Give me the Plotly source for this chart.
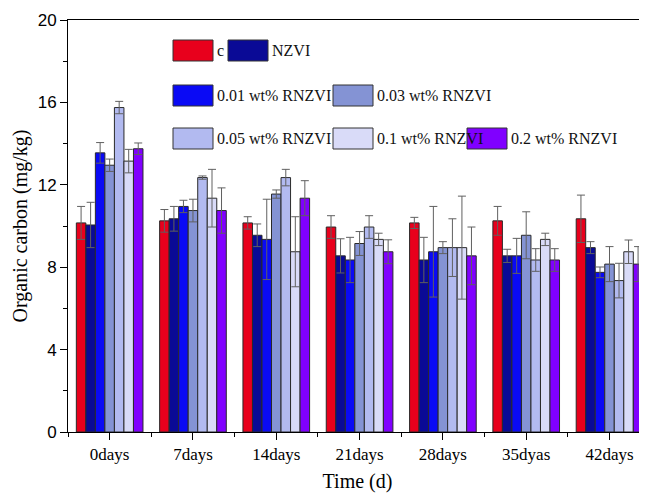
import plotly.graph_objects as go

categories = ["0days", "7days", "14days", "21days", "28days", "35dyas", "42days"]
series_names = ["c", "NZVI", "0.01 wt% RNZVI", "0.03 wt% RNZVI",
                "0.05 wt% RNZVI", "0.1 wt% RNZVI", "0.2 wt% RNZVI"]

c_vals      = [10.15, 10.25, 10.15, 9.95, 10.15, 10.25, 10.35]
nzvi_vals   = [10.05, 10.35, 9.55, 8.55, 8.35, 8.55, 8.95]
r001_vals   = [13.55, 10.95, 9.35, 8.35, 8.75, 8.55, 7.75]
r003_vals   = [12.95, 10.75, 11.55, 9.15, 8.95, 9.55, 8.15]
r005_vals   = [15.75, 12.35, 12.35, 9.95, 8.95, 8.35, 7.35]
r01_vals    = [13.15, 11.35, 8.75, 9.35, 8.95, 9.35, 8.75]
r02_vals    = [13.75, 10.75, 11.35, 8.75, 8.55, 8.35, 8.15]

c_err    = [0.8, 0.55, 0.3, 0.55, 0.27, 0.7, 1.15]
nzvi_err = [1.1, 0.6, 0.55, 0.83, 1.1, 0.32, 0.29]
r001_err = [0.5, 0.3, 1.95, 1.1, 2.2, 0.85, 0.26]
r003_err = [0.3, 0.55, 0.2, 0.58, 0.29, 1.14, 0.85]
r005_err = [0.3, 0.08, 0.4, 0.55, 1.4, 0.55, 0.84]
r01_err  = [0.57, 1.4, 1.7, 0.3, 2.5, 0.3, 0.57]
r02_err  = [0.28, 1.1, 0.85, 0.58, 1.4, 0.55, 0.85]

y_ticks = [0, 4, 8, 12, 16, 20]

values = [c_vals, nzvi_vals, r001_vals, r003_vals, r005_vals, r01_vals, r02_vals]
errors = [c_err, nzvi_err, r001_err, r003_err, r005_err, r01_err, r02_err]
colors = ["#e8001c", "#0a0a96", "#0a0af5", "#8493d4", "#b2baf0", "#d9dbf8", "#8000ff"]

OFF = 8  # page body margin
W, H = 647 - OFF, 496 - OFF
L, R, T, B = 68 - OFF, 0, 20 - OFF, 64
x_pos = list(range(len(categories)))

fig = go.Figure()
for name, v, e, col in zip(series_names, values, errors, colors):
    fig.add_trace(go.Bar(
        x=x_pos, y=v, name=name,
        marker=dict(color=col, line=dict(color="#2a2a2a", width=1)),
        error_y=dict(type="data", array=e, visible=True, color="#606060",
                     thickness=1, width=4),
        showlegend=False,
    ))

# custom legend layout (reference pixel -> paper)
pw, ph = W - L - R, H - T - B
def px(x):
    return (x - OFF - L) / pw
def py(y):
    return (H - B - (y - OFF)) / ph

legend_items = [
    (173, 40, "c"), (228, 40, "NZVI"),
    (173, 85, "0.01 wt% RNZVI"), (333, 85, "0.03 wt% RNZVI"),
    (173, 128, "0.05 wt% RNZVI"), (333, 128, "0.1 wt% RNZVI"), (467, 128, "0.2 wt% RNZVI"),
]
shapes = []
annotations = []
for (bx, by, txt), col in zip(legend_items, colors):
    shapes.append(dict(type="rect", xref="paper", yref="paper",
                       x0=px(bx), x1=px(bx + 40), y0=py(by + 21), y1=py(by),
                       fillcolor=col, line=dict(color="#333333", width=1)))
    annotations.append(dict(xref="paper", yref="paper", x=px(bx + 42), y=py(by + 10.5),
                            text=txt, showarrow=False, xanchor="left", yanchor="middle",
                            font=dict(family="Liberation Serif", size=16, color="#111")))

fig.update_layout(
    width=W, height=H,
    margin=dict(l=L, r=R, t=T, b=B),
    paper_bgcolor="white", plot_bgcolor="white",
    barmode="group", bargap=0.2, bargroupgap=0,
    shapes=shapes, annotations=annotations,
    font=dict(family="Liberation Serif", color="black"),
)
fig.update_xaxes(
    range=[-0.5, 6.45],
    tickmode="array", tickvals=x_pos, ticktext=categories,
    tickfont=dict(family="Liberation Serif", size=17, color="black"),
    ticks="outside", ticklen=7, tickwidth=1, tickcolor="black",
    minor=dict(tick0=0.5, dtick=1, ticks="outside", ticklen=4, tickcolor="black"),
    showline=True, linecolor="black", linewidth=1, mirror=True,
    showgrid=False, zeroline=False,
    title=dict(text="Time (d)", font=dict(family="Liberation Serif", size=20), standoff=10),
)
fig.update_yaxes(
    range=[0, 20], tickmode="array", tickvals=y_ticks,
    tickfont=dict(family="Liberation Sans", size=17, color="black"),
    ticks="outside", ticklen=7, tickwidth=1, tickcolor="black",
    minor=dict(tick0=2, dtick=4, ticks="outside", ticklen=4, tickcolor="black"),
    showline=True, linecolor="black", linewidth=1,
    showgrid=False, zeroline=False,
    title=dict(text="Organic carbon (mg/kg)", font=dict(family="Liberation Serif", size=20), standoff=4),
)

fig.write_html("out.html")
